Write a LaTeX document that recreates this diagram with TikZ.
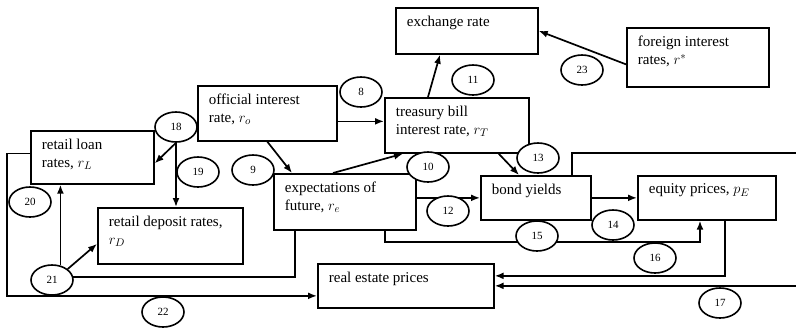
\documentclass[tikz,border=0pt]{standalone}
\usepackage{fontspec}
\setmainfont{Liberation Serif}
\usetikzlibrary{shapes.geometric,arrows.meta}
\tikzset{
  box/.style={draw, line width=1.7pt, anchor=north west, inner sep=0pt},
  boxtxt/.style={anchor=north west, align=left, inner xsep=11pt, inner ysep=8pt,
    font=\fontsize{15}{18}\selectfont},
  num/.style={draw, ellipse, fill=white, line width=1.6pt, minimum width=42pt,
    minimum height=30pt, inner sep=0pt, font=\fontsize{11}{12}\selectfont},
}
\begin{document}
\begin{tikzpicture}[x=1pt,y=-1pt,line width=1.7pt,>={Latex[length=9pt,width=7pt]}]
	\useasboundingbox (0,0) rectangle (796,330);
	\clip (0,0) rectangle (796,330);
	% boxes
	\node[box,minimum width=142pt,minimum height=46pt] (exch) at (395,7) {};
	\node[boxtxt] (exch-t) at (exch.north west) {exchange rate};
	\node[box,minimum width=142pt,minimum height=59pt] (foreign) at (626,27) {};
	\node[boxtxt] (foreign-t) at (foreign.north west) {foreign interest\\rates, $r^*$};
	\node[box,minimum width=139pt,minimum height=55pt] (official) at (197,85) {};
	\node[boxtxt] (official-t) at (official.north west) {official interest\\rate, $r_o$};
	\node[box,minimum width=144pt,minimum height=55pt] (treasury) at (384,97) {};
	\node[boxtxt] (treasury-t) at (treasury.north west) {treasury bill\\interest rate, $r_T$};
	\node[box,minimum width=123pt,minimum height=53pt] (loan) at (30,130) {};
	\node[boxtxt] (loan-t) at (loan.north west) {retail loan\\rates, $r_L$};
	\node[box,minimum width=145pt,minimum height=56pt] (deposit) at (97,207) {};
	\node[boxtxt] (deposit-t) at (deposit.north west) {retail deposit rates,\\$r_D$};
	\node[box,minimum width=142pt,minimum height=56pt] (expect) at (273,173) {};
	\node[boxtxt] (expect-t) at (expect.north west) {expectations of\\future, $r_e$};
	\node[box,minimum width=110pt,minimum height=44pt] (bond) at (480,175) {};
	\node[boxtxt] (bond-t) at (bond.north west) {bond yields};
	\node[box,minimum width=138pt,minimum height=44pt] (equity) at (637,175) {};
	\node[boxtxt] (equity-t) at (equity.north west) {equity prices, $p_E$};
	\node[box,minimum width=176pt,minimum height=44pt] (realestate) at (317,263) {};
	\node[boxtxt] (realestate-t) at (realestate.north west) {real estate prices};
	\coordinate (rim) at (810,153);
	\coordinate (lrim) at (7,0);
	% links
	\draw[->] ([yshift=-8pt]official.east) -- ([yshift=-8pt]official.east -| treasury.west);
	\draw[->] (official.south) -- ([xshift=19pt]expect.north west);
	\draw[->] ([xshift=60pt]expect.north west) -- ([xshift=19pt]treasury.south west);
	\draw[->] ([xshift=44pt]treasury.north west) -- ([xshift=45pt]exch.south west);
	\draw[->] ([yshift=-7pt]foreign.west) -- (exch.east);
	\draw[->] ([xshift=-31pt]treasury.south east) -- ([xshift=39pt]bond.north west);
	\draw[->] (expect.east |- bond.west) -- (bond.west);
	\draw[->] (bond.east) -- (equity.west);
	\draw[->] ([xshift=-32pt]expect.south east) -- ++(0,11) -| ([xshift=63pt]equity.south west);
	\draw[->] ([xshift=-52pt]equity.south east) |- ([yshift=10pt]realestate.east);
	\draw[->] ([xshift=-20pt]bond.north east) |- (rim) |- (realestate.east);
	\draw[->] ([yshift=4pt]loan.west) -- ([yshift=4pt]loan.west -| lrim) |- ([yshift=-10pt]realestate.west);
	% numbers
	\node[num] (n8) at (361,92) {8};
	\node[num] (n9) at (253,170) {9};
	\node[num] (n10) at (428,167) {10};
	\node[num] (n11) at (473,80) {11};
	\node[num] (n12) at (448,211) {12};
	\node[num] (n13) at (538,158) {13};
	\node[num] (n14) at (613,225) {14};
	\node[num] (n15) at (537,236) {15};
	\node[num] (n16) at (655,258) {16};
	\node[num] (n17) at (720,303) {17};
	\node[num] (n18) at (176,127) {18};
	\node[num] (n19) at (198,172) {19};
	\node[num] (n20) at (30,202) {20};
	\node[num] (n21) at (52,280) {21};
	\node[num] (n22) at (163,312) {22};
	\node[num] (n23) at (582,70) {23};
	% links from the numbered points
	\draw[->] (n18.south) -- (n18.south |- deposit.north);
	\draw[->] (n18.south) -- ([yshift=-6pt]loan.east);
	\draw[->] (n21.60) -- (n21.60 |- loan.south);
	\draw[->] (n21.35) -- ([yshift=-8pt]deposit.west);
	\draw ([xshift=22pt]expect.south west) |- (n21.8);
\end{tikzpicture}
\end{document}
